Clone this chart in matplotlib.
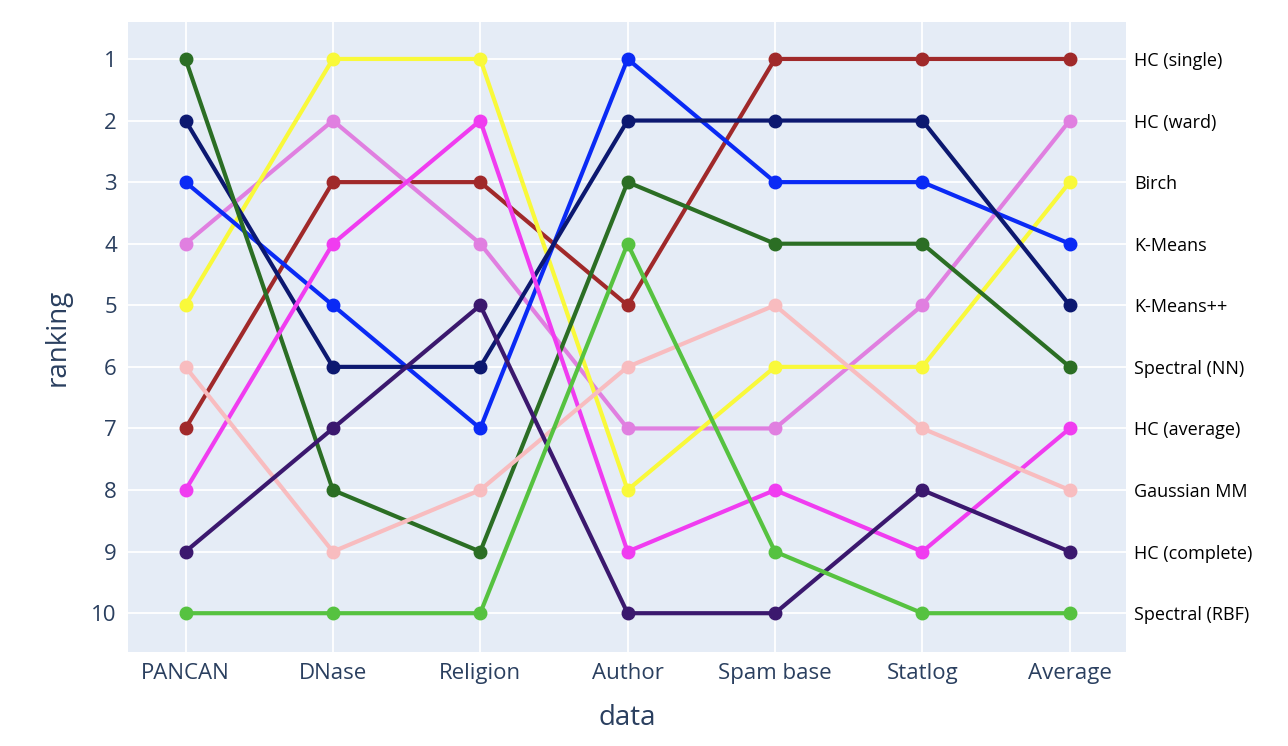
import matplotlib
matplotlib.use("Agg")
import matplotlib.pyplot as plt

plt.rcParams["font.family"] = ["Open Sans", "DejaVu Sans"]

datasets = ["PANCAN", "DNase", "Religion", "Author", "Spam base", "Statlog", "Average"]

methods = ["HC (single)", "HC (ward)", "Birch", "K-Means", "K-Means++",
           "Spectral (NN)", "HC (average)", "Gaussian MM", "HC (complete)", "Spectral (RBF)"]

rank_hc_single = [7, 3, 3, 5, 1, 1, 1]
rank_hc_ward = [4, 2, 4, 7, 7, 5, 2]
rank_birch = [5, 1, 1, 8, 6, 6, 3]
rank_kmeans = [3, 5, 7, 1, 3, 3, 4]
rank_kmeanspp = [2, 6, 6, 2, 2, 2, 5]
rank_spectral_nn = [1, 8, 9, 3, 4, 4, 6]
rank_hc_average = [8, 4, 2, 9, 8, 9, 7]
rank_gmm = [6, 9, 8, 6, 5, 7, 8]
rank_hc_complete = [9, 7, 5, 10, 10, 8, 9]
rank_spectral_rbf = [10, 10, 10, 4, 9, 10, 10]

rankings = [rank_hc_single, rank_hc_ward, rank_birch, rank_kmeans, rank_kmeanspp,
            rank_spectral_nn, rank_hc_average, rank_gmm, rank_hc_complete, rank_spectral_rbf]

colors = ["#a0292a", "#e07fe0", "#f9f93a", "#0a2af5", "#0c1870",
          "#2b6e24", "#f03cf0", "#f8bcbf", "#3b186e", "#56c240"]

fig = plt.figure(figsize=(12.88, 7.46), dpi=100)
ax = fig.add_axes([0.0994, 0.126, 0.7746, 0.8445])
ax.set_facecolor("#E5ECF6")

x = list(range(len(datasets)))
for r, c in zip(rankings, colors):
    ax.plot(x, r, color=c, lw=3, marker="o", ms=9, zorder=3)

ax.set_xlim(-0.39, 6.38)
ax.set_ylim(10.63, 0.4)
ax.set_xticks(x)
ax.set_xticklabels(datasets)
ax.set_yticks(range(1, 11))
ax.grid(color="white", lw=1.3, zorder=0)
ax.set_axisbelow(True)
for s in ax.spines.values():
    s.set_visible(False)
ax.tick_params(length=0, labelsize=16, labelcolor="#2a3f5f", pad=8)
ax.set_xlabel("data", fontsize=20, color="#2a3f5f", labelpad=14)
ax.set_ylabel("ranking", fontsize=20, color="#2a3f5f", labelpad=14)

ax2 = ax.twinx()
ax2.set_ylim(ax.get_ylim())
avg = [r[-1] for r in rankings]
ax2.set_yticks(avg)
ax2.set_yticklabels(methods)
ax2.tick_params(length=0, labelsize=13, labelcolor="black", pad=6)
for s in ax2.spines.values():
    s.set_visible(False)

fig.savefig("out.png", dpi=100)
